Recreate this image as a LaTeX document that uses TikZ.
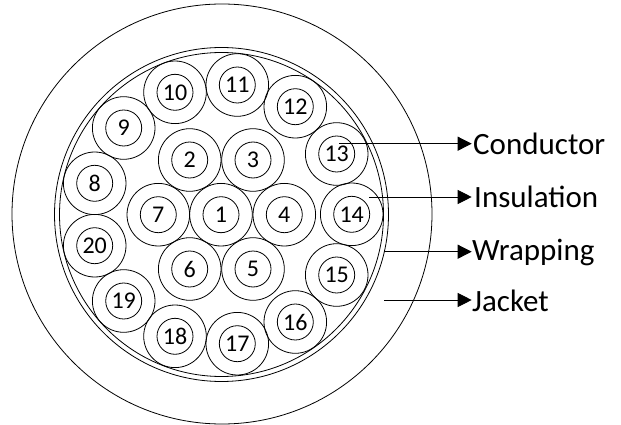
\documentclass[tikz,border=0pt]{standalone}
\usepackage{fontspec}
\setmainfont{Carlito}
\usetikzlibrary{arrows.meta}
\tikzset{
  ringline/.style={draw=black,line width=0.8pt},
  jacketring/.style={ringline,circle,inner sep=0pt,minimum size=420pt},
  wrapouter/.style={ringline,circle,inner sep=0pt,minimum size=334pt},
  wrapinner/.style={ringline,circle,inner sep=0pt,minimum size=324pt},
  insulring/.style={ringline,circle,inner sep=0pt,minimum size=62.6pt},
  condring/.style={ringline,circle,inner sep=0pt,minimum size=36pt},
  numtext/.style={inner sep=0pt,font=\fontsize{24pt}{24pt}\selectfont},
  pointer/.style={draw=black,line width=0.9pt,-{Triangle[length=14pt,width=14pt]},shorten >=0pt},
  partlabel/.style={anchor=base west,inner sep=0pt,font=\fontsize{31pt}{31pt}\selectfont}
}
\begin{document}
\begin{tikzpicture}[x=1pt,y=-1pt]
\useasboundingbox (0,0) rectangle (621,425);
\node[jacketring] (jacket) at (222,214) {};
\node[wrapouter] (wo) at (221.5,214.5) {};
\node[wrapinner] (wi) at (221.5,214.5) {};
\foreach \n/\px/\py in {
  1/221/214.7, 2/189.7/160, 3/253/160, 4/284.3/214.7, 5/253/269,
  6/189.7/269, 7/158.3/214.7, 8/94.7/183.3, 9/123.7/128, 10/175/92.3,
  11/237.3/85, 12/295.3/106.7, 13/336.7/154, 14/351.7/214.3, 15/336.7/275,
  16/295.3/322, 17/237.3/343.7, 18/175/336.3, 19/123.7/301, 20/94.7/245.7}{
  \node[insulring] (o\n) at (\px,\py) {};
  \node[condring] (c\n) at (\px,\py) {};
  \node[numtext] (t\n) at (\px,\py) {\n};
}
\node[partlabel] (lc) at (473,154.5) {Conductor};
\node[partlabel] (li) at (474,207.5) {Insulation};
\node[partlabel] (lw) at (472,260) {Wrapping};
\node[partlabel] (lj) at (472,311) {Jacket};
\coordinate (sc) at (339,143.7);
\coordinate (si) at (369,197);
\coordinate (sw) at (384,251.7);
\coordinate (sj) at (384,300);
\coordinate (ec) at (471.7,143.7);
\coordinate (ei) at (471.7,197);
\coordinate (ew) at (471.7,251.7);
\coordinate (ej) at (471.7,300);
\draw[pointer] (sc) -- (ec);
\draw[pointer] (si) -- (ei);
\draw[pointer] (sw) -- (ew);
\draw[pointer] (sj) -- (ej);
\end{tikzpicture}
\end{document}
